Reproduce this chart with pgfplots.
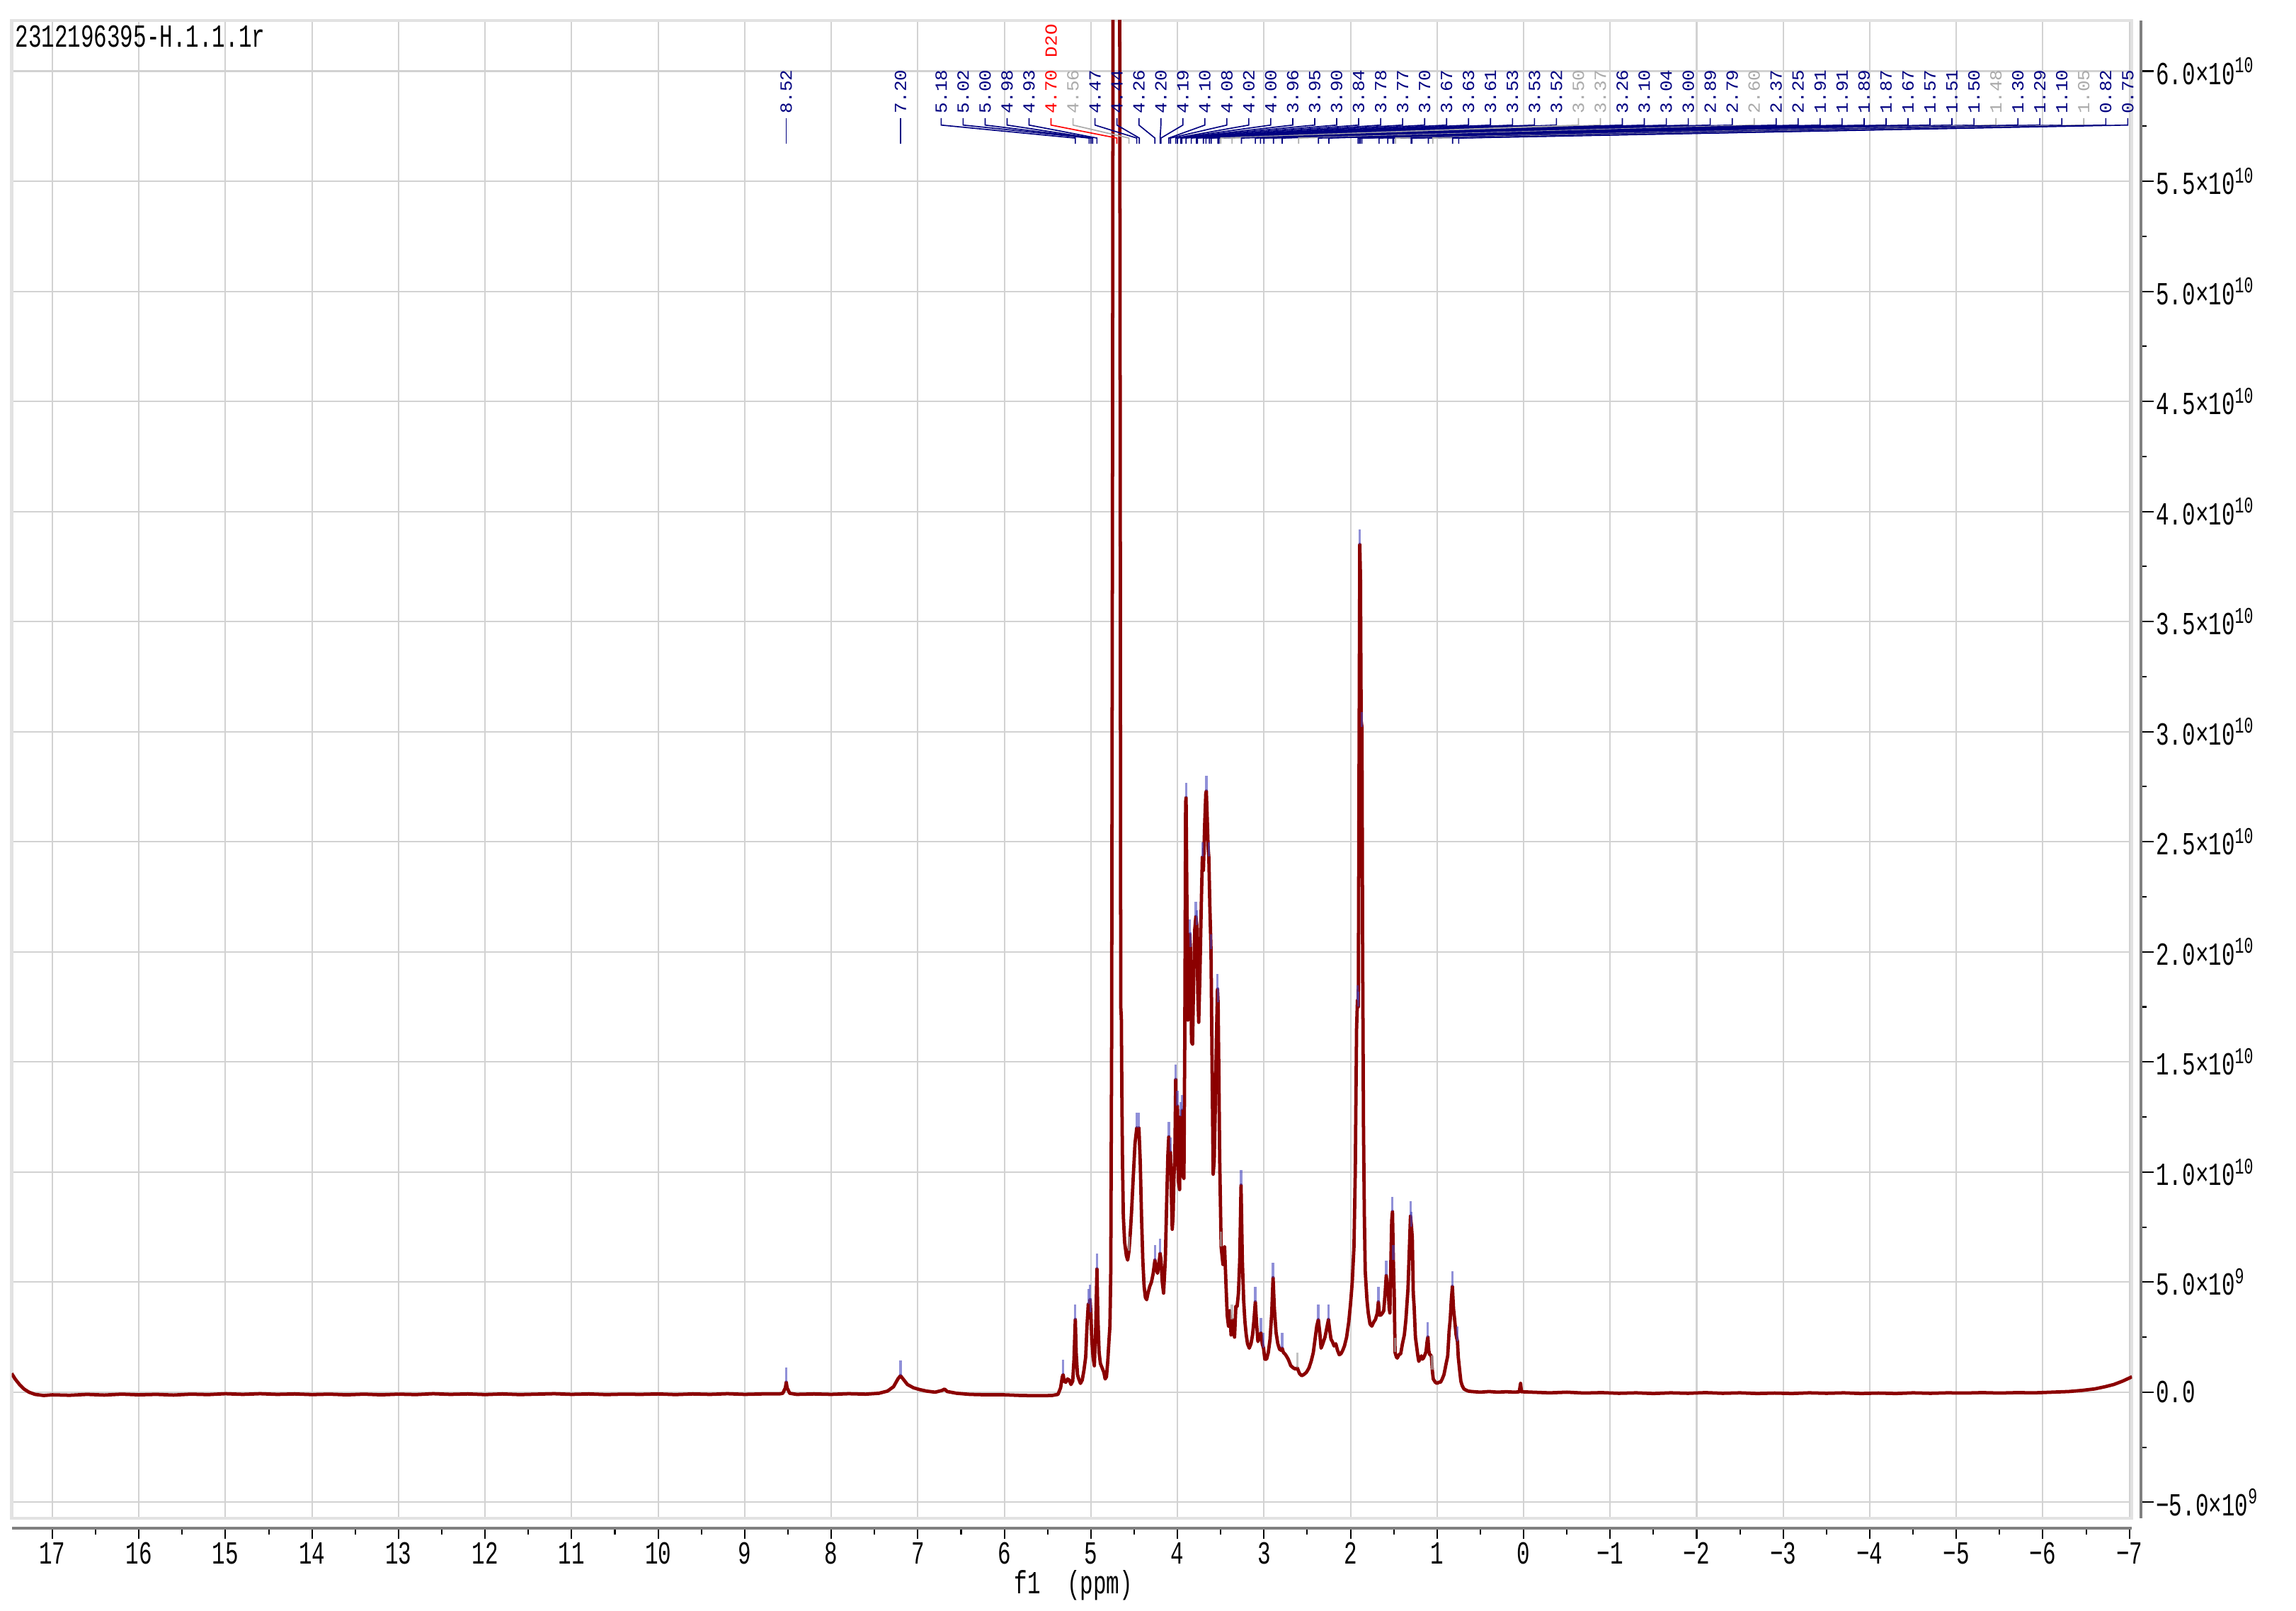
\documentclass[border=0pt]{standalone}
\usepackage{fontspec}
\usepackage{pgfplots}
\pgfplotsset{compat=1.18}
\newfontfamily\simmono[FakeStretch=0.68]{Liberation Mono}
\newfontfamily\simlbl[FakeStretch=1.08]{Liberation Mono}
\newcommand\tickfont{\simmono\fontsize{11}{12}\selectfont}
\newcommand\lblfont{\simlbl\fontsize{5.8}{6.5}\selectfont}

\definecolor{spec}{RGB}{139,0,0}
\definecolor{nv}{RGB}{0,0,128}
\definecolor{rd}{RGB}{255,0,0}
\definecolor{gy}{RGB}{170,170,170}
\definecolor{gridc}{RGB}{210,210,210}
\definecolor{framec}{RGB}{226,226,226}
\definecolor{axc}{RGB}{128,128,128}
\definecolor{pk}{RGB}{70,70,190}

\pgfplotsset{nmr/.style={width=724pt, height=511.5pt, scale only axis,
  xmin=-7.03, xmax=17.47, x dir=reverse, ymin=-5.72, ymax=62.3}}

\begin{document}
\begin{tikzpicture}
\path[use as bounding box] (-4pt,-31.5pt) rectangle (780pt,518.5pt);

% frame, grid and the spectrum (y in units of 10^9)
\begin{axis}[nmr, clip mode=individual,
    xtick={-7,-6,...,17}, ytick={-5,0,...,60},
    xticklabels={}, yticklabels={}, major tick length=0pt,
    grid=major, grid style={draw=gridc, line width=0.5pt},
    axis line style={draw=framec, line width=1pt}]

\addplot[spec, line width=1.15pt, line join=round] coordinates {
(17.47,0.85) (17.43,0.6) (17.38,0.35) (17.33,0.15) (17.27,0.0) (17.2,-0.1) (17.1,-0.15)
(17.0,-0.12) (16.8,-0.14) (16.6,-0.1) (16.4,-0.13) (16.2,-0.09) (16.0,-0.12) (15.8,-0.1)
(15.6,-0.13) (15.4,-0.09) (15.2,-0.11) (15.0,-0.07) (14.8,-0.1) (14.6,-0.07) (14.4,-0.1)
(14.2,-0.08) (14.0,-0.11) (13.8,-0.09) (13.6,-0.12) (13.4,-0.09) (13.2,-0.12) (13.0,-0.09)
(12.8,-0.11) (12.6,-0.07) (12.4,-0.1) (12.2,-0.08) (12.0,-0.11) (11.8,-0.08) (11.6,-0.11)
(11.4,-0.09) (11.2,-0.07) (11.0,-0.1) (10.8,-0.08) (10.6,-0.11) (10.4,-0.09) (10.2,-0.1)
(10.0,-0.08) (9.8,-0.11) (9.6,-0.08) (9.4,-0.1) (9.2,-0.07) (9.0,-0.1) (8.8,-0.08)
(8.6,-0.08) (8.56,-0.05) (8.53,0.2) (8.52,0.45) (8.51,0.2) (8.48,-0.05) (8.4,-0.1)
(8.2,-0.08) (8.0,-0.1) (7.8,-0.07) (7.6,-0.09) (7.45,-0.05) (7.35,0.05) (7.28,0.25)
(7.23,0.6) (7.20,0.75) (7.17,0.6) (7.12,0.35) (7.05,0.2) (6.98,0.12) (6.9,0.05) (6.8,0.0)
(6.72,0.08) (6.69,0.14) (6.66,0.03) (6.55,-0.05) (6.4,-0.1) (6.2,-0.12) (6.0,-0.12)
(5.8,-0.15) (5.6,-0.16) (5.45,-0.15)
(5.38,-0.1) (5.35,0.2) (5.33,0.7) (5.32,0.8) (5.31,0.5) (5.29,0.45) (5.27,0.6) (5.25,0.55)
(5.23,0.35) (5.21,0.5) (5.195,1.5) (5.18,3.3) (5.17,1.8) (5.155,0.8) (5.14,0.6) (5.12,0.4)
(5.10,0.55) (5.08,1.0) (5.06,1.6) (5.045,3.0) (5.03,4.0) (5.02,3.4) (5.01,4.2) (5.00,3.6)
(4.99,2.4) (4.975,1.6) (4.96,1.2) (4.945,2.8) (4.93,5.6) (4.92,3.5) (4.905,1.8) (4.89,1.3)
(4.87,1.1) (4.85,0.9) (4.835,0.6) (4.82,0.7) (4.805,1.4) (4.79,2.4) (4.78,3.0) (4.77,5.5)
(4.76,16) (4.75,42) (4.74,78) (4.72,112) (4.70,120) (4.68,105) (4.67,75) (4.66,38)
(4.655,17.5) (4.648,17.0) (4.642,13.5) (4.635,10.5) (4.625,8.0) (4.61,6.8) (4.59,6.2)
(4.575,6.0) (4.56,6.4) (4.545,7.2) (4.53,8.2) (4.51,9.8) (4.49,11.3) (4.47,12.0)
(4.455,11.6) (4.445,12.0) (4.43,10.5) (4.415,8.0) (4.40,6.0) (4.385,4.8) (4.37,4.3)
(4.355,4.2) (4.34,4.5) (4.32,4.8) (4.30,5.0) (4.28,5.4) (4.26,6.0) (4.245,5.6) (4.23,5.4)
(4.215,5.8) (4.20,6.3) (4.19,6.0) (4.175,5.0) (4.16,4.5) (4.14,6.0) (4.125,8.5) (4.11,10.8)
(4.10,11.6) (4.09,10.2) (4.08,10.9) (4.07,9.0) (4.06,7.4) (4.05,8.0) (4.04,9.8) (4.03,10.6)
(4.02,14.2) (4.01,11.0) (4.00,13.0) (3.99,9.6) (3.975,9.2) (3.965,12.5) (3.955,11.0)
(3.945,12.8) (3.935,9.8) (3.925,9.7) (3.915,16) (3.905,26.8) (3.90,27.0) (3.89,22)
(3.879,16.9) (3.868,18.5) (3.858,20.8) (3.85,20.2) (3.837,15.9) (3.825,15.8) (3.816,18)
(3.80,21.0) (3.787,21.6) (3.775,21.2) (3.764,18) (3.754,16.8) (3.74,19) (3.725,22)
(3.712,24.3) (3.70,23.7) (3.685,25.8) (3.672,27.2) (3.666,27.3) (3.655,26) (3.645,24.7)
(3.637,24.3) (3.625,22) (3.612,20.1) (3.60,15) (3.587,9.9) (3.575,10.5) (3.562,13.0)
(3.55,16) (3.537,18.3) (3.53,17.7) (3.52,14) (3.512,10.7) (3.495,6.6) (3.474,5.8)
(3.455,6.6) (3.44,5.0) (3.425,3.5) (3.41,3.0) (3.395,3.7) (3.38,2.6) (3.37,3.3) (3.355,3.0)
(3.34,2.5) (3.325,3.9) (3.31,3.9) (3.295,4.5) (3.28,6.0) (3.265,9.4) (3.25,6.0) (3.235,4.2)
(3.22,3.2) (3.205,2.6) (3.19,2.2) (3.17,2.0) (3.15,2.2) (3.132,2.6) (3.115,3.3) (3.10,4.1)
(3.085,3.1) (3.07,2.3) (3.05,2.5) (3.035,2.7) (3.02,2.2) (3.005,2.0) (2.99,1.5) (2.97,1.5)
(2.95,1.8) (2.93,2.4) (2.91,3.6) (2.895,5.2) (2.88,3.8) (2.86,2.7) (2.84,2.2) (2.82,1.95)
(2.80,1.9) (2.79,2.0) (2.775,1.8) (2.75,1.7) (2.72,1.5) (2.69,1.2) (2.66,1.1) (2.635,1.05)
(2.615,1.1) (2.59,0.85) (2.565,0.75) (2.54,0.8) (2.51,0.9) (2.48,1.1) (2.455,1.4) (2.43,1.8)
(2.41,2.4) (2.39,3.0) (2.372,3.3) (2.355,2.7) (2.34,2.0) (2.32,2.2) (2.295,2.5) (2.27,3.0)
(2.255,3.3) (2.24,2.8) (2.225,2.4) (2.21,2.3) (2.19,2.1) (2.17,2.2) (2.15,1.9) (2.13,1.7)
(2.11,1.75) (2.09,1.9) (2.07,2.1) (2.045,2.5) (2.02,3.2) (2.00,4.0) (1.98,5.0) (1.96,6.6)
(1.945,10) (1.93,16.5) (1.92,17.8) (1.91,17.5) (1.90,30) (1.893,38.5) (1.885,37)
(1.877,30.5) (1.868,30.2) (1.86,20) (1.85,12) (1.84,8) (1.83,5.5) (1.81,4.2) (1.795,3.6)
(1.775,3.1) (1.754,3.0) (1.73,3.2) (1.712,3.3) (1.69,3.6) (1.678,4.1) (1.665,3.5)
(1.649,3.5) (1.63,3.6) (1.616,3.7) (1.60,4.5) (1.587,5.3) (1.575,4.8) (1.565,4.7)
(1.553,3.8) (1.545,3.6) (1.533,6.0) (1.524,7.8) (1.515,8.2) (1.505,6.0) (1.495,4.5)
(1.485,1.8) (1.47,1.6) (1.46,1.55) (1.44,1.7) (1.42,1.75) (1.40,2.2) (1.378,2.6) (1.36,3.3)
(1.336,4.7) (1.32,6.5) (1.307,8.0) (1.295,7.5) (1.286,7.0) (1.275,4.5) (1.265,3.9)
(1.25,2.5) (1.232,1.95) (1.22,1.6) (1.211,1.4) (1.20,1.5) (1.182,1.65) (1.17,1.5)
(1.157,1.55) (1.14,1.7) (1.127,1.85) (1.115,2.3) (1.106,2.5) (1.096,1.9) (1.086,1.7)
(1.075,1.7) (1.065,1.6) (1.055,1.0) (1.044,0.6) (1.02,0.45) (1.00,0.4) (0.98,0.45)
(0.96,0.45) (0.94,0.6) (0.92,0.8) (0.90,1.2) (0.877,1.65) (0.86,2.8) (0.848,3.3) (0.835,4.2)
(0.823,4.8) (0.81,3.8) (0.797,3.3) (0.78,2.6) (0.764,2.3) (0.755,1.6) (0.739,1.0) (0.725,0.5)
(0.71,0.3) (0.69,0.15) (0.668,0.1) (0.64,0.05) (0.6,0.03)
(0.5,0.0) (0.4,0.03) (0.3,0.0) (0.2,0.02) (0.1,0.0) (0.05,0.02) (0.035,0.4) (0.025,0.02)
(-0.1,0.0) (-0.3,-0.03) (-0.5,0.0) (-0.7,-0.04) (-0.9,-0.02) (-1.1,-0.05) (-1.3,-0.03)
(-1.5,-0.06) (-1.7,-0.03) (-1.9,-0.05) (-2.1,-0.02) (-2.3,-0.05) (-2.5,-0.03) (-2.7,-0.06)
(-2.9,-0.04) (-3.1,-0.06) (-3.3,-0.03) (-3.5,-0.05) (-3.7,-0.03) (-3.9,-0.06) (-4.1,-0.04)
(-4.3,-0.06) (-4.5,-0.03) (-4.7,-0.05) (-4.9,-0.03) (-5.1,-0.04) (-5.3,-0.02) (-5.5,-0.04)
(-5.7,-0.02) (-5.9,-0.03) (-6.1,0.0) (-6.3,0.03) (-6.45,0.08) (-6.6,0.15) (-6.72,0.25)
(-6.82,0.35) (-6.92,0.5) (-7.03,0.7)
};

% peak picking marks
\addplot[only marks, mark=|, mark size=2.5pt, pk, opacity=0.6,
    mark options={line width=0.8pt}] coordinates {
(8.52,0.8) (7.20,1.1) (5.32,1.15) (5.18,3.65) (5.03,4.35) (5.01,4.55) (5.00,3.95)
(4.93,5.95) (4.47,12.35) (4.445,12.35) (4.26,6.35) (4.20,6.65) (4.10,11.95) (4.08,11.25)
(4.02,14.55) (4.00,13.35) (3.965,12.85) (3.945,13.15) (3.90,27.35) (3.858,21.15)
(3.85,20.55) (3.787,21.95) (3.775,21.55) (3.712,24.65) (3.666,27.65) (3.637,24.65)
(3.612,20.45) (3.537,18.65) (3.53,18.05) (3.265,9.75) (3.10,4.45) (3.035,3.05)
(3.005,2.35) (2.895,5.55) (2.79,2.35) (2.372,3.65) (2.255,3.65) (1.92,18.15) (1.91,17.85)
(1.893,38.85) (1.868,30.55) (1.678,4.45) (1.587,5.65) (1.515,8.55) (1.505,6.35)
(1.307,8.35) (1.295,7.85) (1.106,2.85) (0.823,5.15) (0.764,2.65)
};
\addplot[only marks, mark=|, mark size=2.5pt, gy, opacity=0.7,
    mark options={line width=0.8pt}] coordinates {
(4.56,6.75) (3.495,6.95) (3.37,3.65) (2.615,1.45) (1.485,2.15) (1.055,1.35)
};

% peak labels
\draw[nv, line width=0.4pt] (axis cs:8.52,57.87) -- (axis cs:8.52,56.70);
\node[nv, rotate=90, anchor=west, inner sep=0pt, font=\lblfont] at (axis cs:8.52,58.03) {8.52};
\draw[nv, line width=0.4pt] (axis cs:7.20,57.87) -- (axis cs:7.20,56.70);
\node[nv, rotate=90, anchor=west, inner sep=0pt, font=\lblfont] at (axis cs:7.20,58.03) {7.20};
\foreach \p/\c [count=\i from 0] in {5.18/nv,5.02/nv,5.00/nv,4.98/nv,4.93/nv,4.70/rd,4.56/gy,
    4.47/nv,4.44/nv,4.26/nv,4.20/nv,4.19/nv,4.10/nv,4.08/nv,4.02/nv,4.00/nv,3.96/nv,3.95/nv,
    3.90/nv,3.84/nv,3.78/nv,3.77/nv,3.70/nv,3.67/nv,3.63/nv,3.61/nv,3.53/nv,3.53/nv,3.52/nv,
    3.50/gy,3.37/gy,3.26/nv,3.10/nv,3.04/nv,3.00/nv,2.89/nv,2.79/nv,2.60/gy,2.37/nv,2.25/nv,
    1.91/nv,1.91/nv,1.89/nv,1.87/nv,1.67/nv,1.57/nv,1.51/nv,1.50/nv,1.48/gy,1.30/nv,1.29/nv,
    1.10/nv,1.05/gy,0.82/nv,0.75/nv}{%
  \pgfmathsetmacro\xl{6.73-0.2539*\i}%
  \edef\temp{\noexpand\draw[\c, line width=0.4pt] (axis cs:\xl,57.87) -- (axis cs:\xl,57.55)
      -- (axis cs:\p,56.96) -- (axis cs:\p,56.70);
    \noexpand\node[\c, rotate=90, anchor=west, inner sep=0pt, font=\noexpand\lblfont]
      at (axis cs:\xl,58.03) {\p};}%
  \temp
}
\node[rd, rotate=90, anchor=west, inner sep=0pt, font=\lblfont] at (axis cs:5.46,60.6) {D2O};

\node[anchor=north west, inner sep=0pt, font=\tickfont, xshift=1pt, yshift=-1.5pt]
  at (axis cs:17.47,62.3) {2312196395-H.1.1.1r};
\node[font=\tickfont, yshift=-23pt] at (axis cs:5.2,-5.72) {f1\ \ (ppm)};
\end{axis}

% bottom axis line with ticks
\begin{axis}[nmr, at={(0pt,-3.5pt)}, hide y axis, axis x line*=bottom,
    x axis line style={draw=axc, line width=0.9pt, -},
    xtick={-7,-6,...,17},
    xticklabels={−7,−6,−5,−4,−3,−2,−1,0,1,2,3,4,5,6,7,8,9,10,11,12,13,14,15,16,17},
    minor x tick num=1, tick align=outside,
    major tick length=3.6pt, minor tick length=2pt,
    tick style={black, line width=0.5pt},
    xticklabel style={font=\tickfont, inner sep=1pt}]
\end{axis}

% right axis line with ticks
\begin{axis}[nmr, at={(3pt,0pt)}, hide x axis, axis y line*=right,
    y axis line style={draw=axc, line width=0.9pt, -},
    ytick={-5,0,...,60},
    yticklabels={−5.0×10\textsuperscript{9},0.0,5.0×10\textsuperscript{9},
      1.0×10\textsuperscript{10},1.5×10\textsuperscript{10},2.0×10\textsuperscript{10},
      2.5×10\textsuperscript{10},3.0×10\textsuperscript{10},3.5×10\textsuperscript{10},
      4.0×10\textsuperscript{10},4.5×10\textsuperscript{10},5.0×10\textsuperscript{10},
      5.5×10\textsuperscript{10},6.0×10\textsuperscript{10}},
    minor y tick num=1, tick align=outside,
    major tick length=4.5pt, minor tick length=2pt,
    tick style={black, line width=0.5pt},
    yticklabel style={font=\tickfont, anchor=west, inner sep=0.5pt}]
\end{axis}
\end{tikzpicture}
\end{document}
